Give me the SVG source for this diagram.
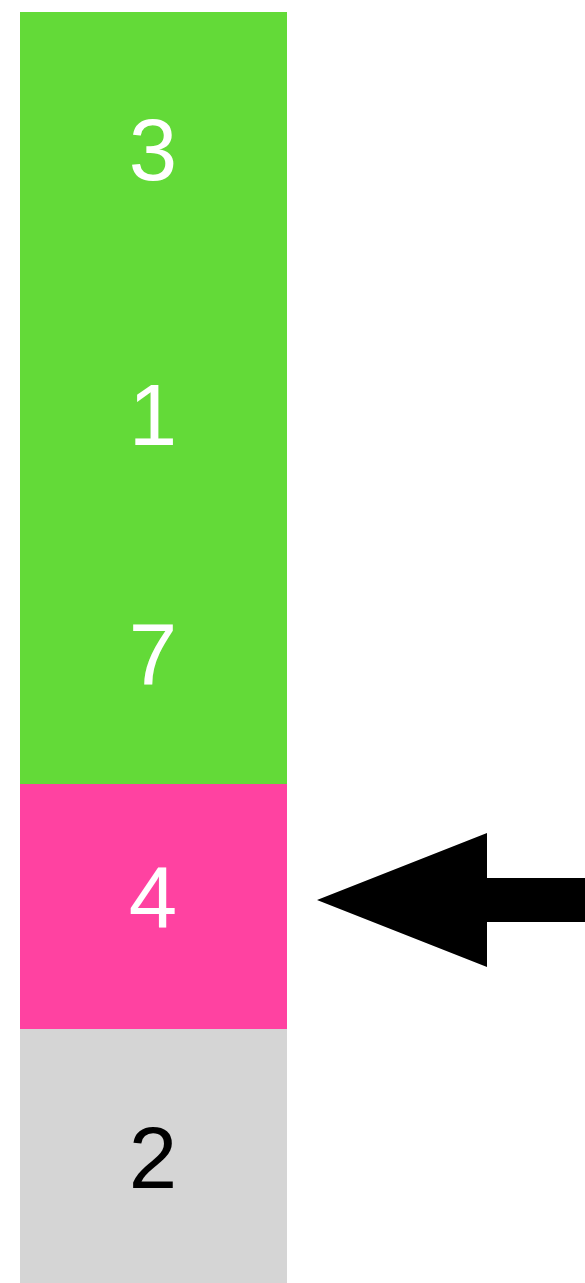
<svg xmlns="http://www.w3.org/2000/svg" width="585" height="1283" viewBox="0 0 585 1283">
<style>
.num{font-family:"Liberation Sans",Arial,sans-serif;font-size:87px;text-anchor:middle}
.w{fill:#ffffff}
.k{fill:#000000}
</style>
<rect width="585" height="1283" fill="#ffffff"/>
<g id="cell-3"><rect x="20" y="12" width="267" height="258" fill="#63DA38"/><text class="num w" x="153" y="180">3</text></g>
<g id="cell-1"><rect x="20" y="269" width="267" height="258" fill="#63DA38"/><text class="num w" x="153" y="445">1</text></g>
<g id="cell-7"><rect x="20" y="526" width="267" height="258" fill="#63DA38"/><text class="num w" x="153" y="685">7</text></g>
<g id="cell-4"><rect x="20" y="784" width="267" height="245" fill="#FF42A1"/><text class="num w" x="153" y="928">4</text></g>
<g id="cell-2"><rect x="20" y="1029" width="267" height="254" fill="#D5D5D5"/><text class="num k" x="153" y="1188">2</text></g>
<g id="connectors"><polygon points="317,900 487,833 487,878 585,878 585,922 487,922 487,967" fill="#000000"/></g>
</svg>
